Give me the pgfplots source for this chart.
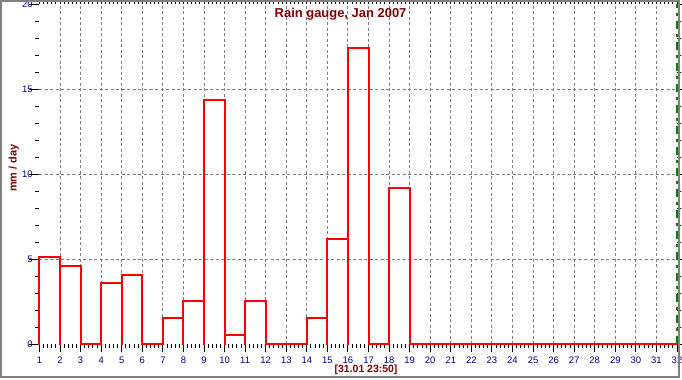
\documentclass[border=0pt]{standalone}
\usepackage{pgfplots}
\pgfplotsset{compat=1.18}
\usepackage{pgfplotstable}
\usepackage{fontspec}
\setmainfont{Liberation Sans}
\definecolor{darkred}{HTML}{800000}
\definecolor{navyc}{HTML}{000080}
\definecolor{gridgray}{HTML}{808080}
\definecolor{greenc}{HTML}{008000}
% day, mm/day (bar from day to day+1)
\pgfplotstableread{
x y
1 5.15
2 4.6
3 0
4 3.6
5 4.1
6 0
7 1.55
8 2.55
9 14.35
10 0.55
11 2.55
12 0
13 0
14 1.55
15 6.2
16 17.4
17 0
18 9.2
19 0
20 0
21 0
22 0
23 0
24 0
25 0
26 0
27 0
28 0
29 0
30 0
31 0
32 0
}\tops
% right edges of the bars: x = day+1
\pgfplotstableread{
x y
2 5.15
3 4.6
4 0
5 3.6
6 4.1
7 0
8 1.55
9 2.55
10 14.35
11 0.55
12 2.55
13 0
14 0
15 1.55
16 6.2
17 17.4
18 0
19 9.2
}\rightedges
\begin{document}
\begin{tikzpicture}
\begin{axis}[
  scale only axis,
  width=637.5bp, height=340bp,
  xmin=1, xmax=32, ymin=0, ymax=20,
  clip=false,
  axis line style={draw=none},
  tick align=outside,
  xtick={1,...,32},
  ytick={0,5,10,15,20},
  minor x tick num=4,
  minor y tick num=4,
  minor tick length=4bp,
  xtick style={black, line width=1bp, /pgfplots/major tick length=8bp},
  ytick style={black, line width=1bp, /pgfplots/major tick length=10.5bp},
  extra x ticks={2,...,31},
  extra x tick labels={},
  extra x tick style={grid=major},
  extra y ticks={5,10,15},
  extra y tick labels={},
  extra y tick style={grid=major},
  major grid style={gridgray, line width=1bp, dash pattern=on 3bp off 2.5bp},
  tick label style={font=\fontsize{9.5}{11}\selectfont, text=navyc},
  /pgf/number format/assume math mode=true,
  xticklabel style={anchor=base, yshift=-15bp},
  yticklabel style={anchor=east, xshift=1bp},
]
% vertical edges of bars
\addplot[red, line width=2bp, ycomb, mark=none, line cap=rect] table[x=x,y=y] {\tops};
\addplot[red, line width=2bp, ycomb, mark=none, line cap=rect] table[x=x,y=y] {\rightedges};
% tops
\addplot[red, line width=2bp, const plot mark left, mark=none, line cap=rect] table[x=x,y=y] {\tops};
% current-time marker
\draw[greenc, line width=1.3bp, dash pattern=on 8bp off 5bp on 3bp off 5bp] (axis cs:32,0) -- (axis cs:32,20);
% title and labels
\node[anchor=base, text=darkred, font=\fontsize{13}{15}\selectfont\bfseries] at (axis cs:15.64,19.24) {Rain gauge, Jan 2007};
\node[anchor=base, text=darkred, font=\fontsize{10.5}{12}\selectfont\bfseries] at ([yshift=-28.4bp]axis cs:16.88,0) {[31.01 23:50]};
\node[anchor=base, rotate=90, text=darkred, font=\fontsize{11}{13}\selectfont\bfseries] at ([xshift=-22.8bp]axis cs:1,10.37) {mm / day};
\coordinate (bl) at ([xshift=-39.5bp, yshift=-35.7bp]rel axis cs:0,0);
\coordinate (tr) at ([xshift=5bp, yshift=4.3bp]rel axis cs:1,1);
\end{axis}
\pgfresetboundingbox
\path[use as bounding box] (bl) rectangle (tr);
\draw[gridgray, line width=2bp] ([shift={(1bp,3bp)}]bl) rectangle ([shift={(-3bp,-1bp)}]tr);
\end{tikzpicture}
\end{document}
